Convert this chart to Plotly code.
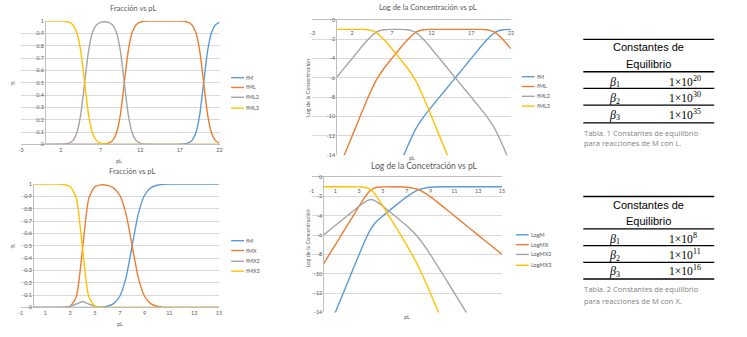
import plotly.graph_objects as go

W, H = 747, 337


def fx(px):
    return px / W


def fy(py):
    return 1 - py / H


BLUE, ORANGE, GRAY, YELLOW = "#5B9BD5", "#ED7D31", "#A5A5A5", "#FFC000"
COLORS = [BLUE, ORANGE, GRAY, YELLOW]
TXT = "#595959"
GRID = "#D9D9D9"
AXL = "#BFBFBF"
FONT = "Lato"

# ---------------- data: system M-L ----------------
pL_frac_L = [0, 0.5, 1, 1.5, 2, 2.5, 3, 3.5, 4, 4.5, 5, 5.5, 6, 6.5, 7, 7.5, 8, 8.5, 9, 9.5,
             10, 10.5, 11, 11.5, 12, 12.5, 13, 13.5, 14, 14.5, 15, 15.5, 16, 16.5, 17, 17.5,
             18, 18.5, 19, 19.5, 20, 20.5, 21, 21.5, 22]
fM_L = [0] * 34 + [0.001, 0.003, 0.010, 0.031, 0.091, 0.240, 0.500, 0.760, 0.909, 0.969, 0.990]
fML_L = [0] * 11 + [0, 0.0001, 0.0003, 0.001, 0.003, 0.010, 0.031, 0.091, 0.240, 0.500, 0.760,
                    0.909, 0.969, 0.990, 0.997, 0.999] + [1] * 7 + \
        [0.999, 0.997, 0.990, 0.969, 0.909, 0.760, 0.500, 0.240, 0.091, 0.031, 0.010]
fML2_L = [0, 0, 0.0001, 0.0003, 0.001, 0.003, 0.010, 0.031, 0.091, 0.240, 0.500, 0.760, 0.909,
          0.969, 0.989, 0.994, 0.989, 0.969, 0.909, 0.760, 0.500, 0.240, 0.091, 0.031, 0.010,
          0.003, 0.001, 0.0003] + [0] * 17
fML3_L = [1, 1, 1, 1, 0.999, 0.997, 0.990, 0.969, 0.909, 0.760, 0.500, 0.240, 0.091, 0.031,
          0.010, 0.003, 0.001, 0.0003] + [0] * 27

pL_log_L = list(range(0, 23))
logM_L = [-36, -33, -30, -27, -24.04, -21.3, -19.04, -17, -15, -13.04, -11.3, -10.04, -9, -8,
          -7, -6, -5, -4, -3, -2.04, -1.3, -1.04, -1.0]
logML_L = [-16, -14, -12, -10, -8.04, -6.3, -5.04, -4.0, -3.0, -2.04, -1.3, -1.04, -1.0, -1,
           -1, -1, -1, -1, -1.0, -1.04, -1.3, -2.04, -3.0]
logML2_L = [-6, -5, -4, -3.0, -2.04, -1.3, -1.04, -1.0, -1.0, -1.04, -1.3, -2.04, -3, -4, -5,
            -6, -7, -8, -9, -10.04, -11.3, -13.04, -15]
logML3_L = [-1, -1, -1, -1.0, -1.04, -1.3, -2.04, -3.0, -4.0, -5.04, -6.3, -8.04, -10, -12,
            -14, -16, -18, -20, -22, -24.04, -26.3, -29.04, -32]

# ---------------- data: system M-X ----------------
pL_frac_X = [0, 0.5, 1, 1.5, 2, 2.5, 3, 3.5, 4, 4.5, 5, 5.5, 6, 6.5, 7, 7.5, 8, 8.5, 9, 9.5,
             10, 10.5, 11, 11.5, 12, 12.5, 13, 13.5, 14, 14.5, 15]
fM_X = [0] * 9 + [0.0003, 0.001, 0.003, 0.010, 0.031, 0.091, 0.240, 0.500, 0.760, 0.909,
                  0.969, 0.990, 0.997, 0.999] + [1] * 8
fMX_X = [0] * 4 + [0.0001, 0.003, 0.010, 0.088, 0.476, 0.884, 0.979, 0.993, 0.989, 0.969,
                   0.909, 0.760, 0.500, 0.240, 0.091, 0.031, 0.010, 0.003, 0.001] + [0] * 8
fMX2_X = [0] * 4 + [0.001, 0.003, 0.010, 0.028, 0.048, 0.028, 0.010, 0.003, 0.001] + [0] * 18
fMX3_X = [1] * 4 + [0.999, 0.996, 0.980, 0.884, 0.476, 0.088, 0.010, 0.001] + [0] * 19

pL_log_X = [0, 1, 2, 3, 3.5, 4, 4.5, 5, 6, 7, 8, 9, 10, 11, 12, 13, 14, 15]
logM_X = [-17, -14, -11, -8.01, -6.55, -5.32, -4.55, -4.01, -3.0, -2.04, -1.3, -1.04, -1.0,
          -1, -1, -1, -1, -1]
logMX_X = [-9, -7, -5, -3.01, -2.05, -1.32, -1.05, -1.01, -1.0, -1.04, -1.3, -2.04, -3.0,
           -4, -5, -6, -7, -8]
logMX2_X = [-6, -5, -4, -3.01, -2.55, -2.32, -2.55, -3.01, -4.0, -5.04, -6.3, -8.04, -10,
            -12, -14, -16, -18, -20]
logMX3_X = [-1, -1, -1.0, -1.01, -1.05, -1.32, -2.05, -3.01, -5.0, -7.04, -9.3, -12.04, -15,
            -18, -21, -24, -27, -30]

names_L = ["fM", "fML", "fML2", "fML3"]
names_X = ["fM", "fMX", "fMX2", "fMX3"]
names_logX = ["LogM", "LogMX", "LogMX2", "LogMX3"]

frac_ticks = [0, 0.1, 0.2, 0.3, 0.4, 0.5, 0.6, 0.7, 0.8, 0.9, 1]
frac_ticktext = ["0", "0.1", "0.2", "0.3", "0.4", "0.5", "0.6", "0.7", "0.8", "0.9", "1"]
log_ticks = [0, -2, -4, -6, -8, -10, -12, -14]
log_ticktext = ["0", "-2", "-4", "-6", "-8", "-10", "-12", "-14"]
xticks_L = [-3, 2, 7, 12, 17, 22]
xticks_X = [-1, 1, 3, 5, 7, 9, 11, 13, 15]

beta_exponents_L = ["20", "30", "35"]
beta_exponents_X = ["8", "11", "16"]

fig = go.Figure()


def add(x, y, color, xa, ya, name):
    fig.add_trace(go.Scatter(
        x=x, y=y, mode="lines", name=name, xaxis=xa, yaxis=ya, showlegend=False,
        line=dict(color=color, width=1.4, shape="spline", smoothing=0.6),
        hoverinfo="x+y+name"))


for ys, c, n in zip([fM_L, fML_L, fML2_L, fML3_L], COLORS, names_L):
    add(pL_frac_L, ys, c, "x", "y", n)
for ys, c, n in zip([logM_L, logML_L, logML2_L, logML3_L], COLORS, names_L):
    add(pL_log_L, ys, c, "x2", "y2", n)
for ys, c, n in zip([fM_X, fMX_X, fMX2_X, fMX3_X], COLORS, names_X):
    add(pL_frac_X, ys, c, "x3", "y3", n)
for ys, c, n in zip([logM_X, logMX_X, logMX2_X, logMX3_X], COLORS, names_logX):
    add(pL_log_X, ys, c, "x4", "y4", n)

tickfont = dict(family=FONT, size=5.5, color=TXT)


def xax(dom, rng, ticks, anchor, top=False):
    d = dict(domain=[fx(dom[0]), fx(dom[1])], range=rng, tickvals=ticks,
             ticktext=[str(t) for t in ticks], anchor=anchor, showgrid=False,
             zeroline=False, showline=True, linecolor=AXL, linewidth=1, ticks="",
             tickfont=tickfont, fixedrange=True, ticklabeloverflow="allow")
    if top:
        d.update(side="top", ticklabelstandoff=-19)
    return d


def yax(dom, rng, ticks, text, pos):
    return dict(domain=[fy(dom[1]), fy(dom[0])], range=rng, tickvals=ticks, ticktext=text,
                anchor="free", position=fx(pos), showgrid=True, gridcolor=GRID,
                gridwidth=1, zeroline=False, showline=True, linecolor=AXL, linewidth=1,
                ticks="", tickfont=tickfont, fixedrange=True, ticklabeloverflow="allow")


layout = dict(
    width=W, height=H, autosize=False, margin=dict(l=0, r=0, t=0, b=0),
    paper_bgcolor="white", plot_bgcolor="white", showlegend=False,
    xaxis=xax((18.3, 218.3), [-3, 22], xticks_L, "y"),
    yaxis=yax((18.3, 144), [0, 1], frac_ticks, frac_ticktext, 42.3),
    xaxis2=xax((312, 512), [-3, 22], xticks_L, "y2", top=True),
    yaxis2=yax((17, 155), [-14, 0], log_ticks, log_ticktext, 336),
    xaxis3=xax((17.7, 217.7), [-1, 15], xticks_X, "y3"),
    yaxis3=yax((184.3, 310), [0, 1], frac_ticks, frac_ticktext, 30.2),
    xaxis4=xax((311, 503), [-1, 15], xticks_X, "y4", top=True),
    yaxis4=yax((177.3, 315), [-14, 0], log_ticks, log_ticktext, 323),
)
fig.update_layout(**layout)

annotations = []
shapes = []


def ann(text, x, y, size, color=TXT, family=FONT, xanchor="center", angle=0, style="normal"):
    annotations.append(dict(text=text, x=fx(x), y=fy(y), xref="paper", yref="paper",
                            showarrow=False, xanchor=xanchor, yanchor="middle",
                            textangle=angle, borderpad=0,
                            font=dict(family=family, size=size, color=color, style=style)))


# chart titles
ann("Fracción vs pL", 131, 6, 7.5)
ann("Log de la Concentración vs pL", 428, 5, 7.5)
ann("Fracción vs pL", 130, 172, 7.5)
ann("Log de la Concetración vs pL", 425, 166, 8.5)

# axis titles
ann("pL", 117, 161, 5.5)
ann("%", 10, 81, 5.5, angle=-90)
ann("pL", 412, 158, 5.5)
ann("Log de la Concentración", 308, 87, 5.5, angle=-90)
ann("pL", 118, 327, 5.5)
ann("%", 10, 247, 5.5, angle=-90)
ann("pL", 407, 320, 5.5)
ann("Log de la Concentración", 307, 240, 5.5, angle=-90)


# legends
def legend(x0, ys, names):
    for yy, c, n in zip(ys, COLORS, names):
        shapes.append(dict(type="line", xref="paper", yref="paper", x0=fx(x0), x1=fx(x0 + 13),
                           y0=fy(yy), y1=fy(yy), line=dict(color=c, width=1.4)))
        ann(n, x0 + 14, yy, 5.5, xanchor="left")


legend(230, [76, 86, 96, 107], names_L)
legend(523, [75, 85, 95, 105], names_L)
legend(230, [242, 252, 263, 273], names_X)
legend(517, [236, 246, 256, 267], names_logX)


# tables
SERIF = "Liberation Serif"


def table(top, rules, head_y, row_y, exps, caption, cap_y):
    for ry in [top] + rules:
        shapes.append(dict(type="line", xref="paper", yref="paper", x0=fx(585), x1=fx(717),
                           y0=fy(ry), y1=fy(ry), line=dict(color="black", width=1.3)))
    ann("Constantes de", 651, head_y[0], 11, color="black", family="Liberation Sans")
    ann("Equilibrio", 651, head_y[1], 11, color="black", family="Liberation Sans")
    for i, (yy, e) in enumerate(zip(row_y, exps)):
        ann("β", 619, yy, 12, color="black", family=SERIF, xanchor="right", style="italic")
        ann(str(i + 1), 617, yy + 3, 8, color="black", family=SERIF, xanchor="left")
        ann("1×10", 697, yy, 11.5, color="black", family=SERIF, xanchor="right")
        ann(e, 694.5, yy - 3.5, 8, color="black", family=SERIF, xanchor="left")
    for cy, line in zip(cap_y, caption):
        ann(line, 585, cy, 7.5, color="#7F7F7F", family="Open Sans", xanchor="left")


table(37, [70, 87, 104, 122], (45, 62), (80, 97, 114), beta_exponents_L,
      ["Tabla. 1 Constantes de equilibrio", "para reacciones de M con L."], (132, 143))
table(197, [230, 247, 264, 281], (206, 222), (240, 257, 273), beta_exponents_X,
      ["Tabla. 2 Constantes de equilibrio", "para reacciones de M con X."], (291, 303))

fig.update_layout(annotations=annotations, shapes=shapes)
fig.write_html("out.html", config={"displayModeBar": False},
               post_script="document.body.style.margin='0px';")
